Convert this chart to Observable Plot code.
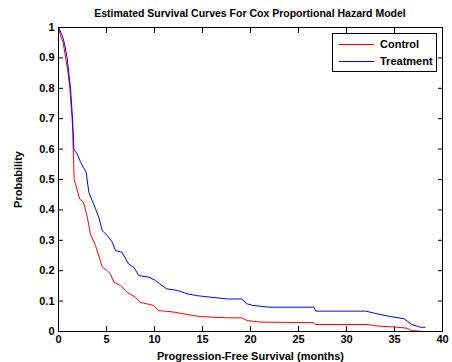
<!DOCTYPE html>
<html>
<head>
<meta charset="utf-8">
<script src="https://cdn.jsdelivr.net/npm/d3@7"></script>
<script src="https://cdn.jsdelivr.net/npm/@observablehq/plot@0.6"></script>
<style>
  html, body { margin: 0; padding: 0; background: #fff; }
  body { font-family: "Liberation Sans", Arial, sans-serif; }
  #wrap { position: relative; width: 452px; height: 362px; overflow: hidden; }
  #title { height: 21px; width: 452px; text-align: center; font-size: 10.5px; font-weight: bold;
           line-height: 12px; padding-top: 7px; box-sizing: border-box; padding-left: 48px; }
  #legend { position: absolute; left: 332px; top: 33px; width: 105px; height: 39px;
            border: 1px solid #000; background: #fff; box-sizing: border-box; font-size: 11px; font-weight: bold; }
  .row { position: absolute; left: 0; height: 14px; line-height: 14px; }
  .sw { position: absolute; left: 6px; width: 35px; height: 0; }
  .lab { position: absolute; left: 47px; white-space: nowrap; }
  svg text { font-family: "Liberation Sans", Arial, sans-serif; }
</style>
</head>
<body>
<div id="wrap">
  <div id="title"></div>
  <div id="chart"></div>
  <div id="legend"></div>
</div>
<script>
const titleText = "Estimated Survival Curves For Cox Proportional Hazard Model";
const xLabel = "Progression-Free Survival (months)";
const yLabel = "Probability";
const seriesNames = ["Control", "Treatment"];
const seriesColors = ["#ff0000", "#0000ff"];
const xTicks = [0, 5, 10, 15, 20, 25, 30, 35, 40];
const yTicks = [0, 0.1, 0.2, 0.3, 0.4, 0.5, 0.6, 0.7, 0.8, 0.9, 1];

const controlTime = [0, 0.2, 0.49, 0.76, 1.0, 1.18, 1.3, 1.42, 1.5, 1.53, 1.58, 1.63, 1.77, 2.0, 2.2, 2.6, 3.0, 3.33, 3.85, 4.3, 4.55, 5.07, 5.4, 5.77, 6.46, 7.15, 8.0, 8.5, 9.9, 10.4, 12.0, 13.4, 14.8, 16.2, 17.6, 19.1, 19.65, 21.0, 26.6, 26.8, 32.2, 33.2, 35.3, 36.3, 36.8, 38.1];
const controlSurv = [1, 0.974, 0.95, 0.897, 0.85, 0.80, 0.75, 0.70, 0.65, 0.60, 0.55, 0.50, 0.486, 0.46, 0.436, 0.425, 0.376, 0.32, 0.283, 0.239, 0.212, 0.20, 0.19, 0.162, 0.151, 0.129, 0.113, 0.096, 0.086, 0.069, 0.064, 0.056, 0.049, 0.047, 0.045, 0.045, 0.036, 0.031, 0.029, 0.023, 0.023, 0.018, 0.014, 0.011, 0.003, 0.0];

const treatTime = [0, 0.3, 0.49, 0.6, 0.9, 1.25, 1.46, 1.6, 1.94, 2.3, 2.6, 2.88, 3.16, 3.5, 3.85, 4.2, 4.55, 5.07, 5.6, 5.94, 6.6, 7.3, 7.85, 8.36, 9.4, 10.1, 10.8, 11.3, 12.4, 13.4, 14.4, 15.8, 17.6, 19.1, 19.65, 20.2, 21.9, 26.6, 26.8, 32.0, 33.2, 34.6, 36.0, 36.8, 37.7, 38.2];
const treatSurv = [1, 0.98, 0.963, 0.95, 0.9, 0.8, 0.7, 0.6, 0.584, 0.557, 0.54, 0.524, 0.458, 0.431, 0.404, 0.376, 0.332, 0.316, 0.294, 0.266, 0.261, 0.222, 0.211, 0.184, 0.179, 0.168, 0.151, 0.14, 0.135, 0.124, 0.118, 0.113, 0.107, 0.107, 0.091, 0.086, 0.08, 0.08, 0.067, 0.067, 0.058, 0.049, 0.042, 0.023, 0.014, 0.014];

const data = [
  ...controlTime.map((t, i) => ({group: seriesNames[0], t, s: controlSurv[i]})),
  ...treatTime.map((t, i) => ({group: seriesNames[1], t, s: treatSurv[i]}))
];

const fmtY = d => String(+d.toFixed(1));
const blank = () => "";

const chart = Plot.plot({
  width: 452,
  height: 341,
  marginLeft: 58,
  marginRight: 10,
  marginTop: 6,
  marginBottom: 31,
  style: {fontSize: "11px", fontWeight: "bold", color: "#000", background: "#fff"},
  x: {domain: [0, 40]},
  y: {domain: [0, 1]},
  color: {domain: seriesNames, range: seriesColors},
  marks: [
    Plot.axisX(xTicks, {anchor: "bottom", tickSize: 0, tickPadding: 4, tickFormat: d => String(d), label: xLabel, labelAnchor: "center", labelOffset: 28, labelArrow: "none"}),
    Plot.axisX(xTicks, {anchor: "bottom", tickSize: -5, tickFormat: blank, label: null}),
    Plot.axisX(xTicks, {anchor: "top", tickSize: -5, tickFormat: blank, label: null}),
    Plot.axisY(yTicks, {anchor: "left", tickSize: 0, tickPadding: 4, tickFormat: fmtY, label: yLabel, labelAnchor: "center", labelOffset: 44, labelArrow: "none"}),
    Plot.axisY(yTicks, {anchor: "left", tickSize: -5, tickFormat: blank, label: null}),
    Plot.axisY(yTicks, {anchor: "right", tickSize: -5, tickFormat: blank, label: null}),
    Plot.line(data, {x: "t", y: "s", stroke: "group", strokeWidth: 1}),
    Plot.frame({stroke: "#000", strokeWidth: 1})
  ]
});
document.getElementById("chart").appendChild(chart);
document.getElementById("title").textContent = titleText;

const legend = document.getElementById("legend");
seriesNames.forEach((name, i) => {
  const row = document.createElement("div");
  row.className = "row";
  row.style.top = (i === 0 ? 3 : 20) + "px";
  row.style.width = "100%";
  const sw = document.createElement("div");
  sw.className = "sw";
  sw.style.top = "7px";
  sw.style.borderTop = "1px solid " + seriesColors[i];
  const lab = document.createElement("div");
  lab.className = "lab";
  lab.textContent = name;
  row.appendChild(sw);
  row.appendChild(lab);
  legend.appendChild(row);
});
</script>
</body>
</html>
